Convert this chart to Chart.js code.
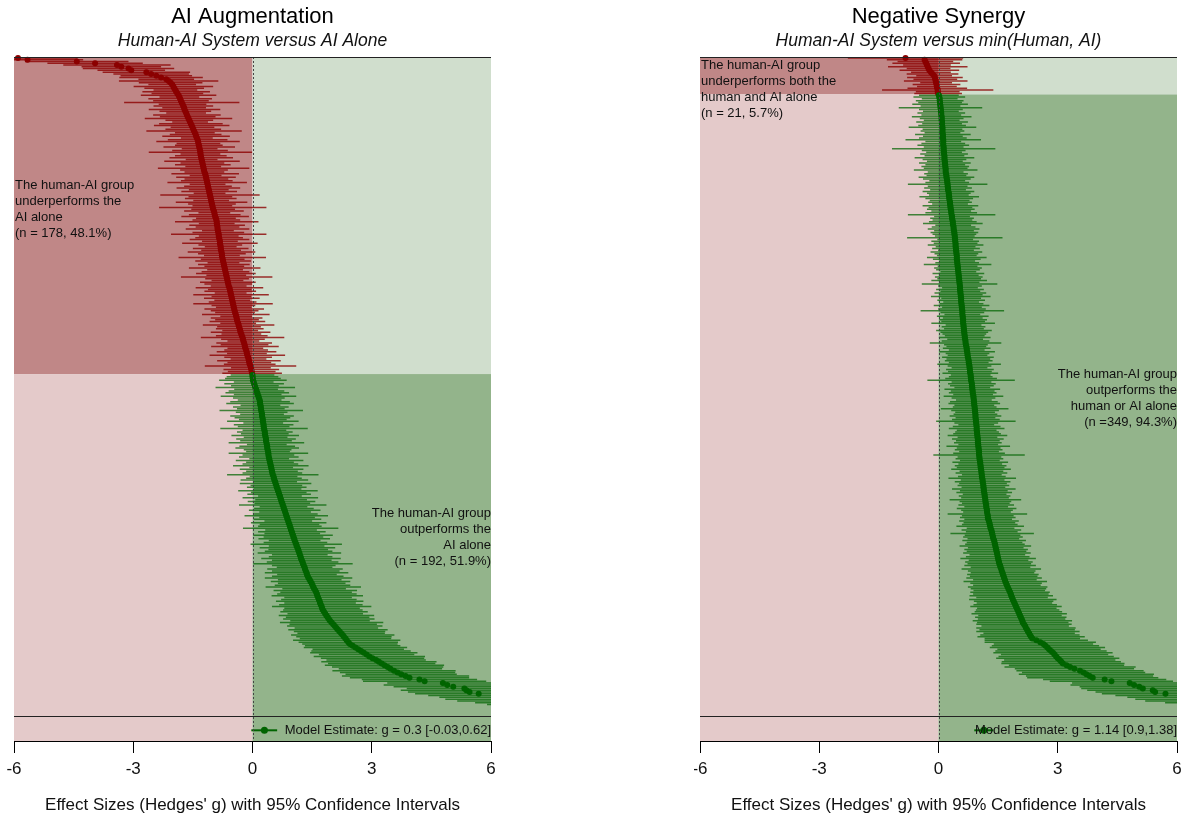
<!DOCTYPE html>
<html lang="en">
<head>
<meta charset="utf-8">
<title>AI Augmentation / Negative Synergy</title>
<script src="https://cdn.jsdelivr.net/npm/chart.js@4.4.1/dist/chart.umd.min.js"></script>
<style>
  html, body { margin: 0; padding: 0; background: #fff; }
  #wrap { position: relative; width: 1183px; height: 818px; }
  canvas { position: absolute; top: 0; }
</style>
</head>
<body>
<div id="wrap">
  <canvas id="aug" width="505" height="818" style="left:0px"></canvas>
  <canvas id="syn" width="489" height="818" style="left:694px"></canvas>
</div>
<script>
// sorted effect sizes (Hedges' g), one per study
const augG = [
  -5.90,-5.66,-4.42,-3.96,-3.41,-3.30,-3.12,-3.05,-2.67,-2.55,
  -2.42,-2.30,-2.17,-2.11,-2.06,-2.02,-1.99,-1.97,-1.94,-1.92,
  -1.89,-1.86,-1.84,-1.82,-1.80,-1.78,-1.76,-1.74,-1.72,-1.71,
  -1.69,-1.67,-1.65,-1.63,-1.61,-1.59,-1.57,-1.55,-1.53,-1.51,
  -1.49,-1.47,-1.45,-1.43,-1.42,-1.40,-1.38,-1.37,-1.36,-1.35,
  -1.34,-1.33,-1.32,-1.31,-1.31,-1.30,-1.29,-1.28,-1.27,-1.26,
  -1.25,-1.24,-1.23,-1.22,-1.21,-1.19,-1.18,-1.17,-1.16,-1.15,
  -1.14,-1.13,-1.12,-1.11,-1.10,-1.09,-1.08,-1.07,-1.06,-1.05,
  -1.04,-1.03,-1.02,-1.01,-1.00,-0.99,-0.97,-0.96,-0.95,-0.94,
  -0.92,-0.91,-0.90,-0.90,-0.89,-0.88,-0.88,-0.87,-0.86,-0.85,
  -0.85,-0.84,-0.83,-0.82,-0.82,-0.81,-0.80,-0.80,-0.79,-0.78,
  -0.77,-0.77,-0.76,-0.75,-0.74,-0.73,-0.72,-0.71,-0.70,-0.69,
  -0.68,-0.67,-0.66,-0.65,-0.64,-0.63,-0.62,-0.61,-0.60,-0.58,
  -0.57,-0.56,-0.55,-0.54,-0.53,-0.52,-0.51,-0.50,-0.49,-0.48,
  -0.47,-0.46,-0.45,-0.44,-0.42,-0.41,-0.40,-0.39,-0.38,-0.36,
  -0.35,-0.34,-0.32,-0.31,-0.30,-0.28,-0.27,-0.25,-0.24,-0.23,
  -0.21,-0.20,-0.19,-0.18,-0.16,-0.15,-0.14,-0.13,-0.11,-0.10,
  -0.09,-0.08,-0.07,-0.05,-0.04,-0.03,-0.02,-0.01,0.00,0.00,
  0.01,0.01,0.03,0.04,0.06,0.07,0.09,0.10,0.12,0.13,
  0.15,0.16,0.18,0.19,0.19,0.20,0.21,0.21,0.22,0.23,
  0.24,0.24,0.25,0.26,0.26,0.27,0.28,0.28,0.29,0.30,
  0.31,0.31,0.32,0.33,0.34,0.34,0.35,0.36,0.37,0.37,
  0.38,0.39,0.40,0.40,0.41,0.42,0.43,0.44,0.45,0.46,
  0.47,0.48,0.49,0.50,0.51,0.53,0.54,0.55,0.57,0.58,
  0.60,0.61,0.63,0.64,0.66,0.67,0.69,0.70,0.72,0.73,
  0.75,0.76,0.78,0.79,0.81,0.82,0.84,0.85,0.87,0.88,
  0.90,0.91,0.93,0.94,0.96,0.97,0.99,1.00,1.02,1.03,
  1.05,1.06,1.08,1.10,1.11,1.13,1.15,1.16,1.18,1.19,
  1.21,1.22,1.24,1.26,1.27,1.29,1.31,1.32,1.34,1.36,
  1.37,1.39,1.41,1.44,1.46,1.49,1.51,1.53,1.55,1.58,
  1.60,1.62,1.63,1.65,1.67,1.69,1.70,1.72,1.74,1.75,
  1.77,1.80,1.83,1.86,1.89,1.92,1.95,1.99,2.03,2.07,
  2.11,2.15,2.19,2.23,2.27,2.30,2.34,2.37,2.41,2.45,
  2.52,2.59,2.66,2.73,2.80,2.87,2.94,3.02,3.11,3.18,
  3.25,3.32,3.40,3.47,3.56,3.65,3.74,3.85,3.95,4.20,
  4.33,4.79,4.90,5.05,5.33,5.38,5.46,5.69,6.12,6.35,
  6.60,6.95,7.30,7.80,8.40,9.10,10.2,11.5,13.1,16.4
];
// half width of each 95% CI
const augHW = [
  1.50,1.40,1.30,1.20,1.35,1.00,1.15,0.85,1.10,0.95,
  0.90,1.05,0.70,1.25,0.80,0.60,1.00,0.75,0.55,0.85,
  0.65,0.95,0.50,0.80,0.70,1.45,0.60,0.75,0.55,0.90,
  0.65,0.50,0.85,0.70,1.10,0.60,0.45,0.80,0.95,0.55,
  0.70,1.20,0.50,0.65,0.85,0.40,0.75,1.05,0.55,0.60,
  0.90,0.45,0.70,1.30,0.50,0.65,0.80,0.40,0.95,0.55,
  0.70,0.45,1.15,0.60,0.50,0.85,0.40,0.75,0.55,0.65,
  1.00,0.45,0.60,0.80,0.50,0.70,0.40,1.25,0.55,0.65,
  0.45,0.90,0.60,0.50,1.35,0.55,0.75,0.40,0.65,0.85,
  0.50,0.60,1.05,0.45,0.70,0.55,0.80,0.40,0.65,1.20,
  0.50,0.60,0.75,0.45,0.95,0.55,0.40,0.70,0.50,0.85,
  0.60,0.45,1.10,0.55,0.70,0.40,0.65,0.50,0.90,0.45,
  0.60,0.75,0.50,1.15,0.55,0.40,0.70,0.60,0.45,0.85,
  0.55,0.65,0.40,0.95,0.50,0.70,0.45,0.60,1.00,0.55,
  0.45,0.75,0.60,0.50,0.85,0.40,0.65,0.55,0.70,0.45,
  0.90,0.55,0.60,0.45,0.75,0.50,0.65,1.05,0.55,0.40,
  0.70,0.60,0.85,0.45,0.55,0.75,0.50,0.95,0.60,0.45,
  0.80,0.55,0.65,1.15,0.50,0.70,0.60,0.75,0.55,0.65,
  0.70,0.85,0.50,0.75,0.60,1.00,0.55,0.70,0.80,0.60,
  0.95,0.65,0.55,0.75,0.85,0.50,0.70,0.60,1.05,0.65,
  0.55,0.80,0.70,0.60,0.90,0.50,0.75,0.65,1.10,0.55,
  0.70,0.60,0.85,0.55,0.75,0.65,0.95,0.50,0.70,0.80,
  0.60,0.55,1.00,0.65,0.75,0.50,0.85,0.60,0.70,0.95,
  0.55,0.80,0.65,0.75,1.15,0.60,0.70,0.85,0.55,0.90,
  0.65,0.75,0.60,1.00,0.70,0.80,0.55,0.95,0.65,0.85,
  0.70,1.10,0.60,0.75,0.90,0.65,0.80,1.05,0.70,0.85,
  0.60,0.95,0.75,0.80,1.20,0.65,0.85,0.70,1.00,0.75,
  0.90,0.65,0.80,1.15,0.70,0.95,0.75,0.85,1.05,0.70,
  0.80,1.00,0.75,0.90,1.25,0.80,0.70,0.95,0.85,1.05,
  0.75,0.90,1.10,0.80,1.00,0.85,0.95,1.20,0.80,1.05,
  0.90,1.00,1.15,0.85,0.95,1.10,0.90,1.05,1.25,0.95,
  1.00,1.10,0.95,1.20,1.05,1.15,1.00,1.30,1.10,1.20,
  1.05,1.25,1.15,1.10,1.30,1.20,1.15,1.35,1.25,1.20,
  1.20,1.30,1.15,1.25,1.35,1.20,1.40,1.30,1.25,1.45,
  1.35,1.50,1.40,1.30,1.55,1.45,1.40,1.60,1.50,1.45,
  1.55,1.40,1.60,1.50,1.45,1.65,1.55,1.60,1.70,1.65,
  1.75,1.80,1.70,1.90,2.00,2.10,2.30,2.50,2.80,3.20
];
const synG = [
  -0.83,-0.35,-0.33,-0.31,-0.29,-0.27,-0.25,-0.23,-0.19,-0.15,
  -0.11,-0.09,-0.08,-0.07,-0.06,-0.05,-0.04,-0.03,-0.02,-0.02,
  -0.01,0.01,0.02,0.03,0.03,0.04,0.04,0.05,0.05,0.06,
  0.06,0.07,0.07,0.08,0.08,0.08,0.09,0.09,0.09,0.10,
  0.10,0.10,0.10,0.11,0.11,0.11,0.12,0.12,0.12,0.12,
  0.13,0.13,0.13,0.14,0.14,0.15,0.15,0.15,0.16,0.16,
  0.17,0.17,0.18,0.18,0.18,0.19,0.20,0.20,0.21,0.22,
  0.22,0.23,0.23,0.24,0.24,0.25,0.26,0.26,0.27,0.27,
  0.28,0.29,0.29,0.30,0.30,0.31,0.32,0.32,0.33,0.34,
  0.34,0.35,0.36,0.36,0.37,0.38,0.38,0.39,0.40,0.40,
  0.41,0.41,0.42,0.42,0.43,0.43,0.43,0.44,0.44,0.45,
  0.45,0.46,0.46,0.46,0.47,0.47,0.48,0.48,0.49,0.49,
  0.50,0.50,0.51,0.51,0.52,0.52,0.53,0.53,0.54,0.54,
  0.54,0.55,0.55,0.56,0.56,0.57,0.57,0.57,0.58,0.58,
  0.59,0.59,0.60,0.60,0.60,0.61,0.61,0.62,0.62,0.62,
  0.63,0.63,0.64,0.64,0.65,0.65,0.66,0.66,0.67,0.68,
  0.68,0.69,0.70,0.71,0.71,0.72,0.73,0.73,0.74,0.75,
  0.76,0.76,0.77,0.78,0.78,0.79,0.79,0.80,0.81,0.81,
  0.82,0.82,0.83,0.84,0.84,0.85,0.85,0.86,0.86,0.87,
  0.88,0.88,0.89,0.89,0.90,0.90,0.91,0.91,0.92,0.92,
  0.93,0.93,0.93,0.94,0.94,0.95,0.95,0.96,0.96,0.96,
  0.97,0.97,0.98,0.98,0.99,0.99,0.99,1.00,1.00,1.01,
  1.01,1.02,1.02,1.02,1.03,1.03,1.04,1.05,1.05,1.06,
  1.06,1.07,1.08,1.08,1.09,1.09,1.10,1.11,1.11,1.12,
  1.13,1.13,1.14,1.14,1.15,1.16,1.16,1.17,1.18,1.18,
  1.19,1.20,1.20,1.21,1.22,1.22,1.23,1.24,1.24,1.25,
  1.27,1.28,1.29,1.30,1.31,1.33,1.34,1.35,1.36,1.37,
  1.38,1.40,1.41,1.42,1.43,1.44,1.45,1.46,1.47,1.48,
  1.49,1.50,1.51,1.52,1.53,1.55,1.56,1.58,1.59,1.61,
  1.62,1.64,1.65,1.67,1.68,1.70,1.72,1.74,1.76,1.78,
  1.80,1.82,1.83,1.85,1.87,1.89,1.91,1.93,1.95,1.97,
  1.99,2.01,2.03,2.05,2.07,2.09,2.11,2.12,2.15,2.18,
  2.20,2.23,2.25,2.28,2.30,2.33,2.36,2.46,2.56,2.64,
  2.69,2.74,2.78,2.83,2.88,2.92,2.96,3.00,3.05,3.09,
  3.13,3.22,3.31,3.42,3.56,3.65,3.72,3.80,3.88,4.18,
  4.35,4.81,4.92,5.05,5.14,5.39,5.45,5.71,6.15,6.40,
  6.70,7.00,7.40,7.90,8.50,9.20,10.3,11.6,13.2,16.5
];
const synHW = [
  1.45,0.95,0.70,0.85,0.60,1.00,0.55,0.75,0.50,0.65,
  0.45,0.70,0.55,0.80,0.40,0.60,0.50,0.75,1.40,0.55,
  0.60,0.50,0.65,0.45,0.60,0.55,0.70,0.50,1.05,0.55,
  0.45,0.60,0.50,0.75,0.55,0.45,0.65,0.50,0.60,0.85,
  0.50,0.55,0.45,0.70,0.50,0.60,0.95,0.45,0.55,0.65,
  0.50,1.30,0.55,0.45,0.60,0.50,0.75,0.55,0.45,0.65,
  0.50,0.60,0.55,0.80,0.45,0.55,0.50,0.70,0.60,0.45,
  0.55,1.00,0.50,0.60,0.45,0.65,0.55,0.50,0.75,0.60,
  0.50,0.55,0.45,0.70,0.55,0.60,0.50,0.65,1.10,0.45,
  0.55,0.50,0.60,0.75,0.45,0.55,0.65,0.50,0.60,0.55,
  0.50,1.20,0.45,0.60,0.55,0.70,0.50,0.60,0.45,0.65,
  0.55,0.50,0.75,0.60,0.45,0.55,0.85,0.50,0.60,0.55,
  0.45,0.65,0.50,0.60,0.55,0.70,0.50,0.95,0.55,0.45,
  0.60,0.50,0.65,0.55,0.75,0.50,0.60,0.45,0.55,0.70,
  0.50,0.60,1.05,0.55,0.45,0.65,0.50,0.60,0.55,0.80,
  0.45,0.55,0.50,0.70,0.60,0.55,0.50,0.65,0.45,0.60,
  0.90,0.55,0.50,0.60,0.45,0.70,0.55,0.50,0.65,0.55,
  0.60,0.50,0.80,0.55,0.45,0.60,0.55,0.70,0.50,0.55,
  0.65,1.10,0.50,0.60,0.55,0.45,0.70,0.55,0.60,0.50,
  0.75,0.55,0.45,0.60,0.65,0.50,0.55,0.85,0.60,0.50,
  0.55,0.65,0.50,0.60,1.00,0.55,0.45,0.60,0.70,0.50,
  0.55,0.60,0.75,0.50,0.65,0.55,0.60,0.50,0.80,0.55,
  0.60,0.50,0.65,1.15,0.55,0.60,0.50,0.70,0.55,0.65,
  0.60,0.75,0.55,0.65,0.50,0.60,0.85,0.55,0.70,0.60,
  0.65,0.55,0.80,0.60,0.70,0.55,0.65,0.60,0.90,0.65,
  0.60,0.70,0.55,0.75,0.65,0.60,1.00,0.65,0.70,0.60,
  0.75,0.65,0.70,0.85,0.60,0.75,0.65,1.05,0.70,0.75,
  0.65,0.80,0.70,0.75,0.90,0.70,0.80,0.75,0.85,0.70,
  0.80,0.95,0.75,0.85,0.80,0.90,0.75,1.00,0.85,0.80,
  0.90,0.85,0.95,0.80,1.05,0.90,0.85,1.00,0.95,0.90,
  1.00,0.95,1.05,0.90,1.10,1.00,0.95,1.05,1.15,1.00,
  1.05,1.10,1.20,1.05,1.15,1.10,1.25,1.15,1.20,1.10,
  1.25,1.20,1.30,1.15,1.25,1.35,1.20,1.30,1.40,1.25,
  1.35,1.45,1.30,1.40,1.50,1.35,1.45,1.55,1.40,1.50,
  1.55,1.45,1.65,1.50,1.60,1.55,1.70,1.60,1.65,1.55,
  1.55,1.45,1.60,1.50,1.55,1.65,1.50,1.60,1.70,1.65,
  1.75,1.80,1.70,1.90,2.00,2.10,2.30,2.50,2.80,3.20
];
const augModel = [0.3, -0.03, 0.62];   // estimate, lower, upper
const synModel = [1.14, 0.9, 1.38];
const augNeg = 178, synNeg = 21;        // studies with g < 0
const xTicks = [-6, -3, 0, 3, 6];
const augNotes = [
  ['The human-AI group', 'underperforms the', 'AI alone', '(n = 178, 48.1%)'],
  ['The human-AI group', 'outperforms the', 'AI alone', '(n = 192, 51.9%)']
];
const synNotes = [
  ['The human-AI group', 'underperforms both the', 'human and AI alone', '(n = 21, 5.7%)'],
  ['The human-AI group', 'outperforms the', 'human or AI alone', '(n =349, 94.3%)']
];

const FONT = '"Liberation Sans", Arial, Helvetica, sans-serif';
const ROW_MAX = 384, SEP = 370, MODEL_ROW = 378;

function panelPlugin(split, notes, noteRows, model) {
  return {
    id: 'panel',
    beforeDatasetsDraw(chart) {
      const {ctx, chartArea: a, scales: {x, y}} = chart;
      const x0 = x.getPixelForValue(0), ys = y.getPixelForValue(split);
      ctx.save();
      ctx.fillStyle = '#c08787'; ctx.fillRect(a.left, a.top, x0 - a.left, ys - a.top);
      ctx.fillStyle = '#d0decd'; ctx.fillRect(x0, a.top, a.right - x0, ys - a.top);
      ctx.fillStyle = '#e4caca'; ctx.fillRect(a.left, ys, x0 - a.left, a.bottom - ys);
      ctx.fillStyle = '#93b48b'; ctx.fillRect(x0, ys, a.right - x0, a.bottom - ys);
      ctx.restore();
    },
    afterDatasetsDraw(chart) {
      const {ctx, chartArea: a, scales: {x, y}} = chart;
      const x0 = x.getPixelForValue(0);
      ctx.save();
      ctx.strokeStyle = '#444'; ctx.lineWidth = 1; ctx.setLineDash([2, 2]);
      ctx.beginPath(); ctx.moveTo(Math.round(x0) + 0.5, a.top); ctx.lineTo(Math.round(x0) + 0.5, a.bottom); ctx.stroke();
      ctx.setLineDash([]);
      ctx.strokeStyle = '#222';
      const ySep = Math.round(y.getPixelForValue(SEP)) + 0.5;
      ctx.beginPath();
      ctx.moveTo(a.left, Math.round(a.top) + 0.5); ctx.lineTo(a.right, Math.round(a.top) + 0.5);
      ctx.moveTo(a.left, ySep); ctx.lineTo(a.right, ySep);
      ctx.stroke();
      ctx.font = '13px ' + FONT; ctx.fillStyle = '#111'; ctx.textBaseline = 'middle';
      // left note (upper-left block), right note (lower-right block)
      ctx.textAlign = 'left';
      notes[0].forEach((t, i) => ctx.fillText(t, a.left + 1, y.getPixelForValue(noteRows[0]) + i * 16));
      ctx.textAlign = 'right';
      notes[1].forEach((t, i) => ctx.fillText(t, a.right, y.getPixelForValue(noteRows[1]) + i * 16));
      ctx.fillText('Model Estimate: g = ' + model[0] + ' [' + model[1] + ',' + model[2] + ']', a.right, y.getPixelForValue(MODEL_ROW));
      ctx.restore();
    }
  };
}

function makePanel(id, g, hw, nNeg, model, title, subtitle, notes, noteRows, pad) {
  const ptCol = g.map((v, i) => i < nNeg ? '#8b0000' : '#006400');
  const barCol = g.map((v, i) => i < nNeg ? 'rgba(139,0,0,0.8)' : 'rgba(0,100,0,0.72)');
  new Chart(document.getElementById(id), {
    type: 'scatter',
    data: {
      datasets: [
        { type: 'scatter', data: g.map((v, i) => ({x: v, y: i + 0.5})), pointRadius: 3,
          pointBackgroundColor: ptCol, pointBorderWidth: 0, order: 0,
          clip: {left: 0, top: 4, right: 0, bottom: 0} },
        { type: 'scatter', data: [{x: model[0], y: MODEL_ROW}], pointRadius: 3.5,
          pointBackgroundColor: '#006400', pointBorderWidth: 0, order: 0 },
        { type: 'bar', indexAxis: 'y', grouped: false, data: g.map((v, i) => ({y: i + 0.5, x: [v - hw[i], v + hw[i]]})),
          backgroundColor: barCol, barThickness: 1.5, borderWidth: 0, inflateAmount: 0, order: 1 },
        { type: 'bar', indexAxis: 'y', grouped: false, data: [{y: MODEL_ROW, x: [model[1], model[2]]}],
          backgroundColor: '#006400', barThickness: 2, borderWidth: 0, inflateAmount: 0, order: 1 }
      ]
    },
    options: {
      responsive: false, animation: false, events: [],
      layout: { padding: {left: pad, right: pad, top: 0, bottom: 0} },
      plugins: {
        legend: { display: false }, tooltip: { enabled: false },
        title: { display: true, text: title, color: '#000', font: {family: FONT, size: 22, weight: 'normal'}, padding: {top: 4, bottom: 0} },
        subtitle: { display: true, text: subtitle, color: '#111', font: {family: FONT, size: 17.5, style: 'italic'}, padding: {top: 0, bottom: 5.6} }
      },
      scales: {
        x: {
          type: 'linear', min: -6, max: 6, offset: false,
          afterBuildTicks: s => { s.ticks = xTicks.map(v => ({value: v})); },
          afterFit: s => { s.height = 77; s.paddingLeft = 0; s.paddingRight = 0; },
          ticks: { color: '#111', font: {family: FONT, size: 17}, padding: 6, maxRotation: 0, autoSkip: false, callback: v => String(v) },
          grid: { drawOnChartArea: false, drawTicks: true, tickLength: 12, color: '#000', lineWidth: 1, offset: false },
          border: { display: true, color: '#000', width: 1 },
          title: { display: true, text: "Effect Sizes (Hedges' g) with 95% Confidence Intervals", color: '#111',
                   font: {family: FONT, size: 17}, padding: {top: 0, bottom: 2} }
        },
        y: { type: 'linear', display: false, reverse: true, min: 0, max: ROW_MAX, offset: false, grid: {offset: false} }
      }
    },
    plugins: [panelPlugin(nNeg, notes, noteRows, model)]
  });
}

makePanel('aug', augG, augHW, augNeg, augModel, 'AI Augmentation', 'Human-AI System versus AI Alone', augNotes, [72, 256], 14);
makePanel('syn', synG, synHW, synNeg, synModel, 'Negative Synergy', 'Human-AI System versus min(Human, AI)', synNotes, [5, 178], 6);
</script>
</body>
</html>
